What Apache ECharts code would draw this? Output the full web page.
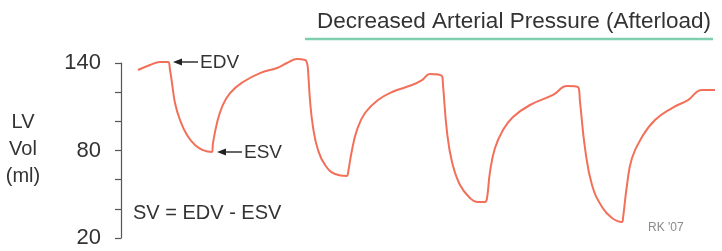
<!DOCTYPE html>
<html>
<head>
<meta charset="utf-8">
<script src="https://cdn.jsdelivr.net/npm/echarts@6/dist/echarts.min.js"></script>
<style>
html,body{margin:0;padding:0;background:#fff;}
#chart{width:722px;height:251px;}
</style>
</head>
<body>
<div id="chart"></div>
<script>
// Time (arbitrary units)
var timeValues = [17,29,39,47,49,51,54,59,66,74,82,91,92,96,101,109,122,139,156,166,176,184,186,
  187,189,192,197,204,214,226,227,231,236,244,257,271,291,301,309,321,322,
  326,331,339,349,356,364,366,369,374,382,392,409,432,446,457,
  459,464,471,481,491,501,502,506,511,521,534,551,567,581,594];
// LV volume (ml)
var volumeValues = [135.2,138.6,140.7,140.7,135.2,126.3,112.6,100.9,90.6,83.8,80.3,79.0,85.1,98.9,109.8,119.4,127.0,133.1,136.6,140,142.7,142.1,140,
  135.2,114.6,96.1,80.3,70.1,63.9,62.5,64.6,80.3,94.1,105.7,114.6,120.1,124.9,128.3,132.5,131.1,124.9,
  92.7,72.1,56.3,47.4,44.7,44.7,47.4,65.3,81.7,94.1,103.0,111.2,118.1,124.2,123.5,
  113.3,81.7,56.3,41.3,33.7,31.0,33.7,56.3,74.9,89.3,100.9,109.1,114.6,121.5,121.5];
var yTickLabels = [20, 80, 140];
var yAxisTitle = 'LV\nVol\n(ml)';
var titleText = 'Decreased Arterial Pressure (Afterload)';

var seriesData = timeValues.map(function(t, i){ return [t, volumeValues[i]]; });

var chart = echarts.init(document.getElementById('chart'));
var font = 'Liberation Sans, Arial, sans-serif';
var textColor = '#333';

function arrow(x1, x2, y) {
  // arrow pointing left at x1
  return [
    {type:'line', shape:{x1:x1+7, y1:y, x2:x2, y2:y}, style:{stroke:'#333', lineWidth:1.5}},
    {type:'polygon', shape:{points:[[x1,y],[x1+9,y-3.5],[x1+9,y+3.5]]}, style:{fill:'#222'}}
  ];
}

var graphics = [
  {type:'text', x:514, y:22, style:{text:titleText, font:'22.5px ' + font, fill:textColor, textAlign:'center', textVerticalAlign:'middle'}},
  {type:'line', shape:{x1:305, y1:39, x2:713, y2:39}, style:{stroke:'#7fcfae', lineWidth:2.5}},
  {type:'text', x:23, y:149, style:{text:yAxisTitle, font:'20px ' + font, fill:textColor, textAlign:'center', textVerticalAlign:'middle', lineHeight:27}},
  {type:'text', x:200, y:63, style:{text:'EDV', font:'19px ' + font, fill:textColor, textAlign:'left', textVerticalAlign:'middle'}},
  {type:'text', x:244, y:153, style:{text:'ESV', font:'19px ' + font, fill:textColor, textAlign:'left', textVerticalAlign:'middle'}},
  {type:'text', x:133, y:213, style:{text:'SV = EDV - ESV', font:'20px ' + font, fill:textColor, textAlign:'left', textVerticalAlign:'middle'}},
  {type:'text', x:648, y:228, style:{text:"RK '07", font:'12px ' + font, fill:'#8a8a8a', textAlign:'left', textVerticalAlign:'middle'}}
].concat(arrow(173, 198, 62)).concat(arrow(217, 242, 152));

chart.setOption({
  animation: false,
  grid: {left:121, right:1, top:63, bottom:13, containLabel:false},
  xAxis: {type:'value', min:0, max:600, show:false},
  yAxis: {
    type:'value', min:20, max:140, interval:20,
    axisLine:{show:true, lineStyle:{color:'#555', width:1.2}},
    axisTick:{show:true, length:6, lineStyle:{color:'#555', width:1.2}},
    splitLine:{show:false},
    axisLabel:{
      margin:20, fontSize:22, color:textColor, fontFamily:font,
      formatter:function(v){ return yTickLabels.indexOf(v) >= 0 ? String(v) : ''; }
    }
  },
  series: [{
    type:'line', data:seriesData, showSymbol:false, smooth:0.45, clip:false,
    lineStyle:{color:'#f2705a', width:2}
  }],
  graphic: graphics
});
</script>
</body>
</html>
